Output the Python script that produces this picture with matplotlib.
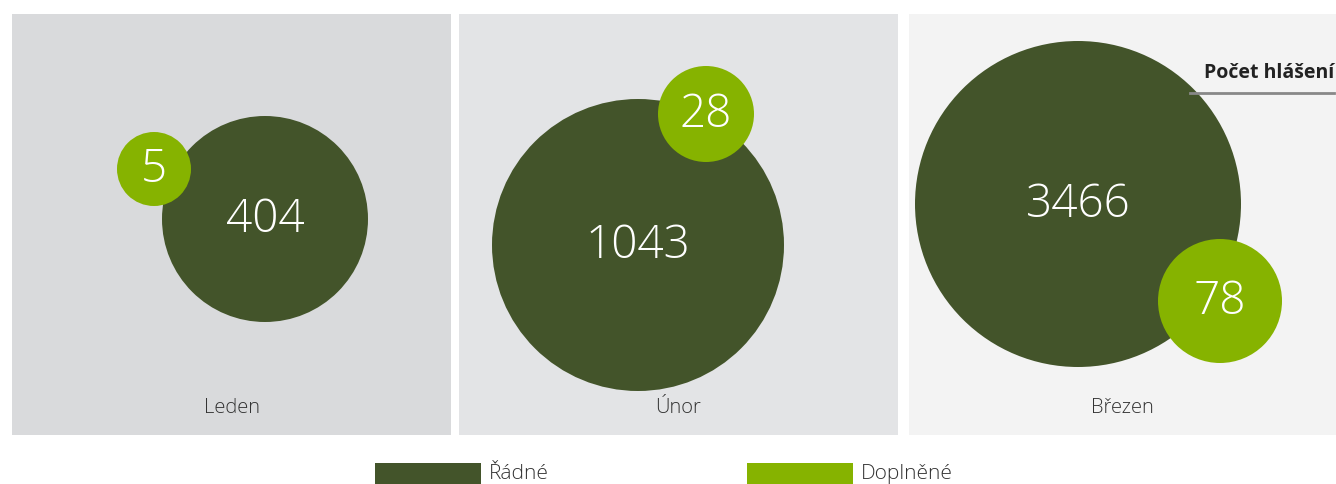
import matplotlib
matplotlib.use('Agg')
import matplotlib.pyplot as plt
from matplotlib.patches import Rectangle, Circle

plt.rcParams['font.family'] = ['Open Sans', 'DejaVu Sans']

# data
months = ['Leden', 'Únor', 'Březen']
radne = [404, 1043, 3466]
doplnene = [5, 28, 78]
series_names = ['Řádné', 'Doplněné']
title = 'Počet hlášení'

# layout (pixels)
panel_x = [12, 459, 909]
panel_w = [439, 439, 427]
panel_bg = ['#d9dadc', '#e3e4e6', '#f3f3f3']
big_pos = [(265, 219), (638, 245), (1078, 204)]
big_r = [103, 146, 163]
small_pos = [(154, 169), (706, 114), (1220, 301)]
small_r = [37, 48, 62]
dark = '#43542a'
light = '#86b300'

fig = plt.figure(figsize=(13.36, 4.84), dpi=100)
ax = fig.add_axes([0, 0, 1, 1])
ax.set_xlim(0, 1336)
ax.set_ylim(484, 0)
ax.axis('off')

for i, m in enumerate(months):
    ax.add_patch(Rectangle((panel_x[i], 14), panel_w[i], 421, color=panel_bg[i], lw=0))
    ax.add_patch(Circle(big_pos[i], big_r[i], color=dark, lw=0))
    ax.add_patch(Circle(small_pos[i], small_r[i], color=light, lw=0))
    ax.text(big_pos[i][0], big_pos[i][1] + 1, str(radne[i]), color='white', fontsize=33,
            fontweight='light', ha='center', va='center')
    ax.text(small_pos[i][0], small_pos[i][1] + 1, str(doplnene[i]), color='white', fontsize=33,
            fontweight='light', ha='center', va='center')
    ax.text(panel_x[i] + panel_w[i] / 2, 408, m, color='#333333', fontsize=14.5,
            fontweight='light', ha='center', va='center')

ax.text(1334, 73, title, color='#222222', fontsize=14, fontweight='bold', ha='right', va='center')
ax.plot([1190, 1334], [93, 93], color='#888888', lw=2)

# legend
ax.add_patch(Rectangle((375, 463), 106, 21, color=dark, lw=0))
ax.text(489, 474, series_names[0], color='#333333', fontsize=15, fontweight='light', va='center')
ax.add_patch(Rectangle((747, 463), 106, 21, color=light, lw=0))
ax.text(861, 474, series_names[1], color='#333333', fontsize=15, fontweight='light', va='center')

fig.savefig('out.png', dpi=100)
